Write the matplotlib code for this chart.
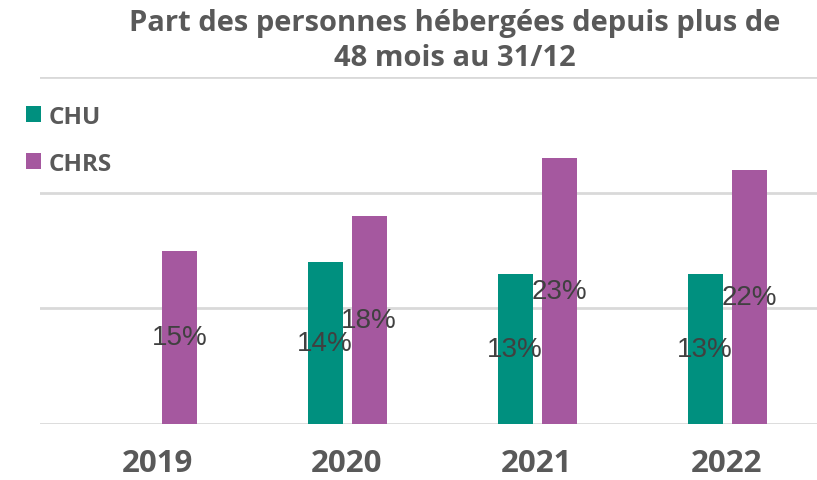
import numpy as np
import matplotlib.pyplot as plt

years = ['2019', '2020', '2021', '2022']
chu = [np.nan, 14, 13, 13]
chrs = [15, 18, 23, 22]

teal = '#00907F'
purple = '#A5589F'
grey = '#595959'

fig = plt.figure(figsize=(8.17, 4.81), dpi=100)
ax = fig.add_axes([40 / 817, 56 / 481, 777 / 817, 347 / 481])

x = np.arange(len(years))
w = 0.184
b1 = ax.bar(x - 0.115, chu, w, color=teal, label='CHU')
b2 = ax.bar(x + 0.117, chrs, w, color=purple, label='CHRS')

for bars, vals in ((b1, chu), (b2, chrs)):
    labels = ['' if np.isnan(v) else '%d%%' % v for v in vals]
    ax.bar_label(bars, labels=labels, label_type='center', fontsize=20,
                 family='Liberation Sans', color='#404040')

ax.set_ylim(0, 30)
ax.set_xlim(-0.616, 3.474)
ax.set_yticks([0, 10, 20, 30])
ax.set_yticklabels([])
ax.yaxis.grid(True, color='#d9d9d9', linewidth=2)
ax.set_axisbelow(True)
for s in ax.spines.values():
    s.set_visible(False)
ax.set_xticks(x)
ax.set_xticklabels(years, fontsize=22.5, fontweight='bold', color=grey, family='Open Sans')
ax.tick_params(length=0, axis='both', pad=17)

fig.suptitle('Part des personnes hébergées depuis plus de\n48 mois au 31/12',
             x=0.557, y=0.982, fontsize=21, fontweight='bold', color=grey,
             family='Open Sans', linespacing=1.27)

leg = fig.legend(loc='upper left', bbox_to_anchor=(0.005, 0.826), frameon=False,
                 prop={'family': 'Open Sans', 'weight': 'bold', 'size': 17.5},
                 handlelength=0.6, handleheight=0.6, handletextpad=0.35,
                 labelspacing=0.95)
for t in leg.get_texts():
    t.set_color(grey)

fig.savefig('out.png', dpi=100)
